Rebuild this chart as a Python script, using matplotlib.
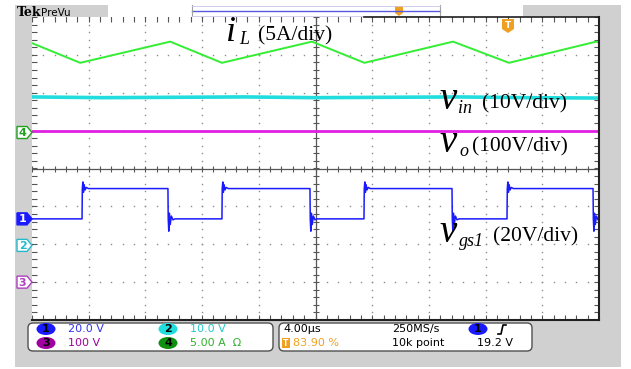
import numpy as np
import matplotlib.pyplot as plt
from matplotlib.patches import Rectangle, FancyBboxPatch, Ellipse, Polygon

### Scope capture: 4 us/div, 10 divisions ###
t_il = [0.0, 3.4, 9.75, 13.4, 19.75, 23.45, 29.7, 33.65, 39.8, 40.0]        # us
i_l = [11.8, 9.2, 12.0, 9.2, 12.0, 9.2, 12.0, 9.2, 12.0, 11.85]            # A

t_vin = [0, 5, 10, 15, 20, 25, 30, 35, 40]
v_in = [39.2, 39.0, 39.1, 39.2, 39.0, 39.1, 39.2, 39.0, 38.9]             # V

t_vo = [0, 40]
v_o = [400, 400]                                                           # V

gate_rise = [3.53, 13.40, 23.42, 33.51]                                    # us
gate_fall = [9.59, 19.61, 29.63, 39.58]
vgs_low, vgs_high = 0.0, 16.0
# switching edge ringing (time after edge in us, voltage)
rise_dt = [0.0, 0.02, 0.06, 0.10, 0.15, 0.22, 0.30, 0.45]
rise_v = [0.0, 16.0, 19.5, 14.0, 18.0, 15.3, 16.6, 16.0]
fall_dt = [0.0, 0.02, 0.06, 0.10, 0.16, 0.24, 0.35, 0.50]
fall_v = [16.0, 0.0, -6.5, 3.0, -3.0, 1.5, -0.5, 0.0]

# channel settings: (units/div, ground offset in div, trace colour)
ch1 = (20.0, -1.33, '#1a1aff')
ch2 = (10.0, -2.03, '#22dddd')
ch3 = (100.0, -3.0, '#e020e0')
ch4 = (5.0, 0.95, '#33ee33')

W, H = 631, 369
GX0, GY0, GX1, GY1 = 32, 17, 599, 320
DIV_PX = (GY1 - GY0) / 8.0


def to_div(vals, ch):
    return np.asarray(vals) / ch[0] + ch[1]


def gate_trace():
    t, v = [0.0], [vgs_low]
    edges = sorted([(e, 'r') for e in gate_rise] + [(e, 'f') for e in gate_fall])
    for te, kind in edges:
        dts, vs = (rise_dt, rise_v) if kind == 'r' else (fall_dt, fall_v)
        t.append(te)
        v.append(v[-1])
        for dt, vv in zip(dts, vs):
            t.append(te + dt)
            v.append(vv)
    t.append(40.0)
    v.append(v[-1])
    return t, v


def pixel_axes():
    ax = fig.add_axes([0, 0, 1, 1])
    ax.set_xlim(0, W)
    ax.set_ylim(H, 0)
    ax.axis('off')
    ax.patch.set_alpha(0)
    return ax


fig = plt.figure(figsize=(W / 100, H / 100), dpi=100)
bg = pixel_axes()

# instrument frame
bg.add_patch(Rectangle((15, 5), 606, 362, color='#d0d0d0', lw=0))
bg.add_patch(Rectangle((108, 5), 415, 12, color='white', lw=0))
bg.plot([192, 440], [10.5, 10.5], color='#5a5ae0', lw=1.0)
bg.plot([192, 192], [5, 17], color='#a0a0a0', lw=0.8)
bg.plot([440, 440], [5, 17], color='#a0a0a0', lw=0.8)
bg.plot([192, 440], [5.5, 5.5], color='#c8c8e8', lw=0.6)
bg.plot([192, 440], [15.5, 15.5], color='#c8c8e8', lw=0.6)
bg.add_patch(Polygon([[395, 6], [403, 6], [403, 13], [399, 16], [395, 13]],
                     color='#f0a020', lw=0))
bg.text(17, 16, 'Tek', fontsize=9, fontweight='bold', family='DejaVu Serif',
        va='baseline')
bg.text(41, 15.5, 'PreVu', fontsize=7.5, family='DejaVu Sans', va='baseline')

# graticule
scope = fig.add_axes([GX0 / W, 1 - GY1 / H, (GX1 - GX0) / W, (GY1 - GY0) / H])
scope.set_xlim(0, 40)
scope.set_ylim(-4, 4)
scope.set_xticks([])
scope.set_yticks([])
for side in ['left', 'top']:
    scope.spines[side].set_visible(False)
for side in ['right', 'bottom']:
    scope.spines[side].set_color('#202020')
    scope.spines[side].set_linewidth(1.5)

minor_x = np.arange(0, 40.01, 0.8)
minor_y = np.arange(-4, 4.01, 0.2)
dot = dict(ls='none', marker='s', ms=1.0, color='#8c8c8c', mew=0)
for gx in range(4, 40, 4):
    if gx != 20:
        scope.plot(np.full_like(minor_y, gx), minor_y, **dot)
for gy in range(-3, 4):
    if gy != 0:
        scope.plot(minor_x, np.full_like(minor_x, gy), **dot)
scope.axhline(0, color='#555555', lw=0.9)
scope.axvline(20, color='#555555', lw=0.9)
tick = dict(ls='none', color='#555555', mew=0.8)
scope.plot(minor_x, np.zeros_like(minor_x), marker='|', ms=5, **tick)
scope.plot(np.full_like(minor_y, 20), minor_y, marker='_', ms=5, **tick)
for edge_x in (0, 40):
    scope.plot(np.full_like(minor_y, edge_x), minor_y, marker='_', ms=7, **tick)
for edge_y in (-4, 4):
    scope.plot(minor_x, np.full_like(minor_x, edge_y), marker='|', ms=7, **tick)

# traces
scope.plot(t_vo, to_div(v_o, ch3), color=ch3[2], lw=2.0)
scope.plot(t_vin, to_div(v_in, ch2), color=ch2[2], lw=2.6)
scope.plot(t_il, to_div(i_l, ch4), color=ch4[2], lw=1.4)
tg, vg = gate_trace()
scope.plot(tg, to_div(vg, ch1), color=ch1[2], lw=1.1)

# overlay for markers and labels drawn over the graticule
top = pixel_axes()
top.plot([364, GX1], [GY0, GY0], color='#202020', lw=1.2)

# trigger position marker
top.add_patch(Polygon([[502, 19], [514, 19], [514, 29], [508, 33], [502, 29]],
                      color='#f0a020', lw=0))
top.text(508, 25, 'T', color='white', fontsize=6.5, fontweight='bold',
         ha='center', va='center')

# channel ground markers on the left strip
for ch, num, filled in [(ch1, '1', True), (ch2, '2', False),
                        (ch3, '3', False), (ch4, '4', False)]:
    yc = (GY0 + GY1) / 2 - ch[1] * DIV_PX
    edge = {'1': '#1a1aff', '2': '#22bbcc', '3': '#b040c0', '4': '#20a020'}[num]
    poly = Polygon([[17, yc - 6], [27, yc - 6], [32, yc], [27, yc + 6], [17, yc + 6]],
                   facecolor=edge if filled else 'white', edgecolor=edge, lw=1.0)
    top.add_patch(poly)
    top.text(22.5, yc + 0.5, num, color='white' if filled else edge, fontsize=8,
             fontweight='bold', ha='center', va='center')

# waveform labels: italic symbol, smaller italic subscript, scale in roman
serif = dict(family='Liberation Serif', va='baseline')
labels = [
    # symbol, (x, y), size, subscript, (x, y), scale text, (x, y)
    ('i', (226, 41), 26, 'L', (239, 44), '(5A/div)', (258, 40)),
    ('v', (439, 109), 28, 'in', (458, 113), '(10V/div)', (482, 108)),
    ('v', (439, 152), 28, 'o', (459, 156), '(100V/div)', (472, 151)),
    ('v', (439, 242), 28, 'gs1', (459, 246), '(20V/div)', (493, 241)),
]
for sym, p_sym, size, sub, p_sub, scale, p_scale in labels:
    top.text(*p_sym, sym, fontsize=size, fontstyle='italic', **serif)
    top.text(*p_sub, sub, fontsize=13, fontstyle='italic', **serif)
    top.text(*p_scale, scale, fontsize=15.5, **serif)

# readout panel
for x0, x1 in [(28, 273), (279, 532)]:
    top.add_patch(FancyBboxPatch((x0, 323), x1 - x0, 28,
                                 boxstyle='round,pad=0,rounding_size=5',
                                 facecolor='white', edgecolor='#505050', lw=1.0))

sans = dict(fontsize=8, family='DejaVu Sans', va='center')
badges = [(46, 329, '#1a1aff', '1', '20.0 V', '#3333ee'),
          (168, 329, '#22dddd', '2', '10.0 V', '#22cccc'),
          (46, 343, '#a000a0', '3', '100 V', '#a000a0'),
          (168, 343, '#109010', '4', '5.00 A  Ω', '#30b030')]
for xc, yc, fc, num, label, tc in badges:
    top.add_patch(Ellipse((xc, yc), 19, 12, color=fc, lw=0))
    top.text(xc, yc + 0.5, num, color='black', ha='center', fontweight='bold',
             **sans)
    top.text(xc + 22, yc, label, color=tc, **sans)

top.text(283, 329, '4.00µs', color='black', **sans)
top.add_patch(Rectangle((282, 338), 8, 10, color='#f0a020', lw=0))
top.text(286, 343.5, 'T', color='white', fontsize=5.5, fontweight='bold',
         ha='center', va='center')
top.text(293, 343, '83.90 %', color='#f0a020', **sans)
top.text(392, 329, '250MS/s', color='black', **sans)
top.text(392, 343, '10k point', color='black', **sans)
top.add_patch(Ellipse((478, 329), 19, 12, color='#1a1aff', lw=0))
top.text(478, 329.5, '1', color='black', ha='center', fontweight='bold', **sans)
top.plot([498, 501, 503, 506], [334, 334, 325, 325], color='black', lw=1.2)
top.text(477, 343, '19.2 V', color='black', **sans)

fig.savefig('out.png', dpi=100)
